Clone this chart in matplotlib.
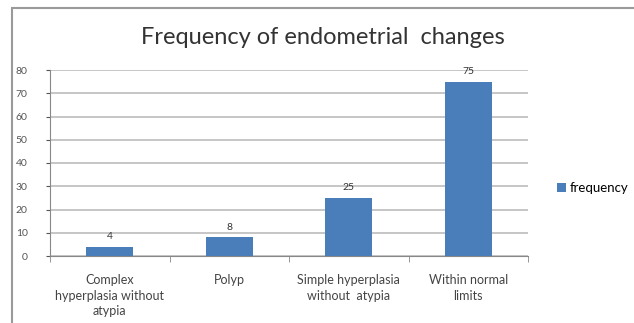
import matplotlib.pyplot as plt
from matplotlib.patches import Rectangle
from matplotlib.ticker import FixedLocator

# data
categories = ["Complex\nhyperplasia without\natypia", "Polyp",
              "Simple hyperplasia\nwithout  atypia", "Within normal\nlimits"]
frequency = [4, 8, 25, 75]
y_ticks = [0, 10, 20, 30, 40, 50, 60, 70, 80]

plt.rcParams["font.family"] = ["Lato", "DejaVu Sans"]

W, H = 634, 323
fig = plt.figure(figsize=(W / 100, H / 100), dpi=100)
fig.patch.set_facecolor("white")

# chart-area border (runs off right/bottom edge)
fig.patches.append(Rectangle((12 / W, -0.1), 1.2, (H - 8) / H + 0.1,
                             transform=fig.transFigure, fill=False,
                             edgecolor="#9a9a9a", linewidth=1.5))

ax = fig.add_axes([50 / W, 1 - 256 / H, 478 / W, 186 / H])
x = list(range(len(categories)))
ax.bar(x, frequency, width=0.39, color="#4a7ebb", zorder=3, label="frequency")
for xi, v in zip(x, frequency):
    ax.text(xi, v + 2.5, str(v), ha="center", va="bottom", fontsize=7.5,
            color="#333333")

ax.set_xlim(-0.5, len(categories) - 0.5)
ax.set_ylim(0, 80)
ax.set_yticks(y_ticks)
ax.tick_params(axis="y", labelsize=7.5, colors="#555555", length=3, pad=13)
ax.yaxis.grid(True, color="#bcbcbc", linewidth=1.2, zorder=0)
ax.set_xticks(x)
ax.set_xticklabels(categories, fontsize=9, color="#444444", linespacing=1.35)
ax.tick_params(axis="x", length=0, pad=13)
ax.xaxis.set_minor_locator(FixedLocator([-0.5, 0.5, 1.5, 2.5, 3.5]))
ax.tick_params(axis="x", which="minor", length=4, color="#888888")
for s in ["top", "right"]:
    ax.spines[s].set_visible(False)
ax.spines["left"].set_color("#888888")
ax.spines["bottom"].set_color("#888888")

fig.text(323 / W, 1 - 38 / H, "Frequency of endometrial  changes",
         ha="center", va="center", fontsize=17, color="#333333")

ax.legend(loc="center left", bbox_to_anchor=(545 / W, 1 - 188 / H),
          bbox_transform=fig.transFigure, frameon=False, fontsize=9.5,
          handlelength=0.7, handleheight=0.7, handletextpad=0.3)

fig.savefig("out.png", dpi=100)
